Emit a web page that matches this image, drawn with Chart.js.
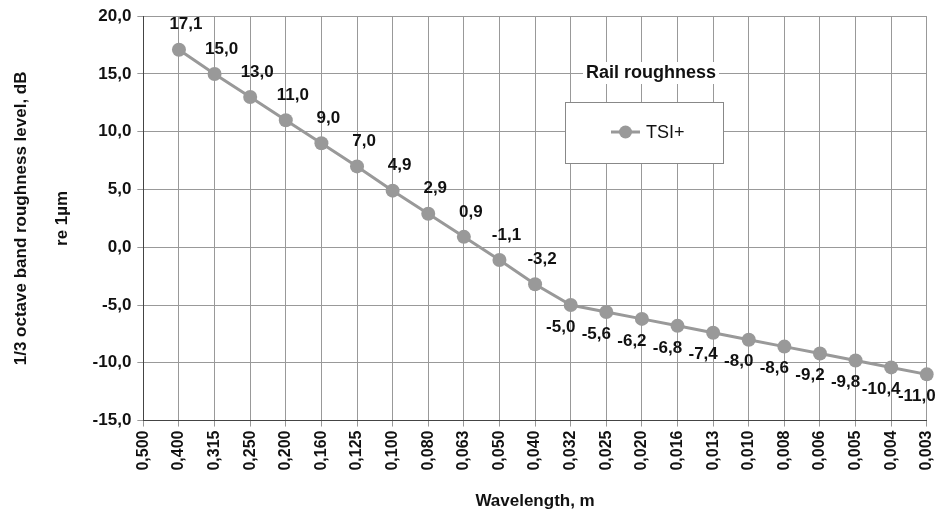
<!DOCTYPE html>
<html>
<head>
<meta charset="utf-8">
<script src="https://cdn.jsdelivr.net/npm/chart.js@4"></script>
<style>
  body { margin: 0; background: #fff; }
  #wrap { width: 950px; height: 521px; }
</style>
</head>
<body>
<div id="wrap"><canvas id="roughChart"></canvas></div>
<script>
// Wavelength categories (m)
const wavelengths = ["0,500", "0,400", "0,315", "0,250", "0,200", "0,160", "0,125", "0,100", "0,080", "0,063",
    "0,050", "0,040", "0,032", "0,025", "0,020", "0,016", "0,013", "0,010", "0,008", "0,006", "0,005", "0,004", "0,003"];

// Roughness level, dB re 1um (no value at 0,500)
const tsiPlus = [null, 17.1, 15.0, 13.0, 11.0, 9.0, 7.0, 4.9, 2.9, 0.9, -1.1, -3.2,
    -5.0, -5.6, -6.2, -6.8, -7.4, -8.0, -8.6, -9.2, -9.8, -10.4, -11.0];

const yTicks = [-15, -10, -5, 0, 5, 10, 15, 20];

const fmt = v => v.toFixed(1).replace('.', ',');
const gray = '#999999';
const fam = '"Liberation Sans", Arial, sans-serif';
const font = 'bold 17px ' + fam;

// value labels next to each point
const pointLabels = {
    id: 'pointLabels',
    afterDatasetsDraw(chart) {
        const ctx = chart.ctx;
        const meta = chart.getDatasetMeta(0);
        ctx.save();
        ctx.font = font;
        ctx.fillStyle = '#111';
        ctx.textAlign = 'center';
        ctx.textBaseline = 'middle';
        meta.data.forEach((pt, i) => {
            const v = tsiPlus[i];
            if (v === null) return;
            if (v > -4) ctx.fillText(fmt(v), pt.x + 7, pt.y - 25);
            else ctx.fillText(fmt(v), pt.x - 10, pt.y + 22);
        });
        ctx.restore();
    }
};

// boxed legend with a title, like the original
const boxLegend = {
    id: 'boxLegend',
    afterDatasetsDraw(chart) {
        const ctx = chart.ctx;
        ctx.save();
        ctx.font = 'bold 18px ' + fam;
        ctx.textBaseline = 'middle';
        ctx.textAlign = 'center';
        const title = 'Rail roughness';
        const tw = ctx.measureText(title).width;
        ctx.fillStyle = '#fff';
        ctx.fillRect(651 - tw / 2 - 3, 62, tw + 6, 22);
        ctx.fillStyle = '#111';
        ctx.fillText(title, 651, 73);

        ctx.fillStyle = '#fff';
        ctx.fillRect(565, 102, 158, 61);
        ctx.strokeStyle = '#888';
        ctx.lineWidth = 1;
        ctx.strokeRect(565.5, 102.5, 158, 61);

        ctx.strokeStyle = gray;
        ctx.lineWidth = 3;
        ctx.beginPath();
        ctx.moveTo(611, 132);
        ctx.lineTo(640, 132);
        ctx.stroke();
        ctx.fillStyle = gray;
        ctx.beginPath();
        ctx.arc(625.5, 132, 6.5, 0, Math.PI * 2);
        ctx.fill();

        ctx.fillStyle = '#111';
        ctx.textAlign = 'left';
        ctx.font = '18px ' + fam;
        ctx.fillText('TSI+', 646, 133);
        ctx.restore();
    }
};

const config = {
    type: 'line',
    data: {
        labels: wavelengths,
        datasets: [{
            label: 'TSI+',
            data: tsiPlus,
            borderColor: gray,
            backgroundColor: gray,
            borderWidth: 3,
            pointRadius: 7,
            pointBackgroundColor: gray,
            pointBorderWidth: 0,
            tension: 0
        }]
    },
    options: {
        responsive: true,
        maintainAspectRatio: false,
        animation: false,
        layout: { padding: { top: 8, right: 16, left: 1, bottom: 9 } },
        plugins: {
            legend: { display: false },
            tooltip: { enabled: false }
        },
        scales: {
            x: {
                offset: false,
                grid: { color: '#999', lineWidth: 1, tickLength: 6, drawTicks: true },
                border: { color: '#444', width: 1 },
                ticks: {
                    color: '#111',
                    font: { family: fam, size: 16, weight: 'bold' },
                    minRotation: 90,
                    maxRotation: 90,
                    autoSkip: false,
                    padding: 4
                },
                title: {
                    display: true,
                    text: 'Wavelength, m',
                    color: '#111',
                    font: { family: fam, size: 17, weight: 'bold' },
                    padding: { top: 17, bottom: 0 }
                }
            },
            y: {
                min: -15,
                max: 20,
                afterBuildTicks: axis => { axis.ticks = yTicks.map(v => ({ value: v })); },
                grid: { color: '#999', lineWidth: 1, tickLength: 6 },
                border: { color: '#444', width: 1 },
                ticks: {
                    color: '#111',
                    font: { family: fam, size: 17, weight: 'bold' },
                    callback: v => fmt(v),
                    padding: 6
                },
                title: {
                    display: true,
                    text: ['1/3 octave band roughness level, dB', 're 1µm'],
                    color: '#111',
                    font: { family: fam, size: 17, weight: 'bold', lineHeight: 2.4 },
                    padding: { top: 0, bottom: 4 }
                }
            }
        }
    },
    plugins: [pointLabels, boxLegend]
};

new Chart(document.getElementById('roughChart').getContext('2d'), config);
</script>
</body>
</html>
